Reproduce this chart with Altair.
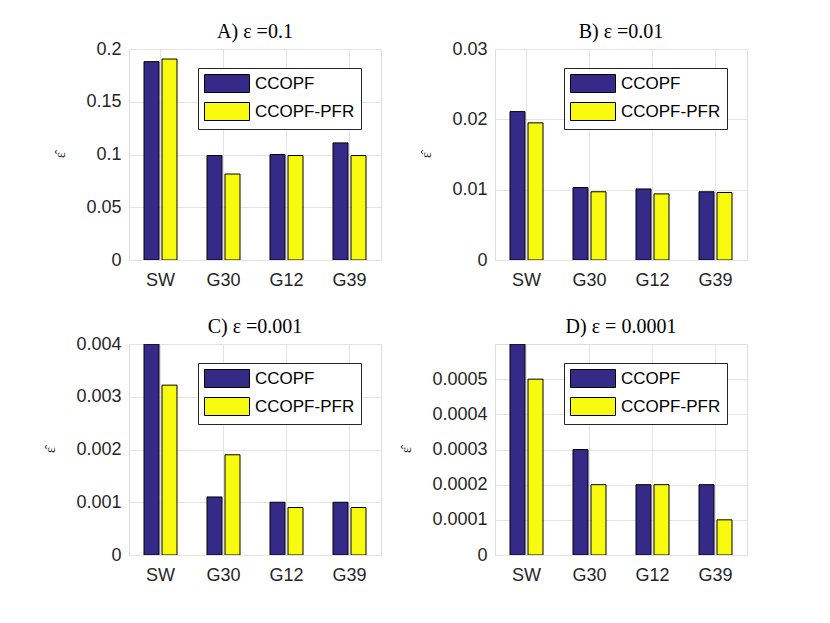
import altair as alt
import pandas as pd

categories = ["SW", "G30", "G12", "G39"]
series = ["CCOPF", "CCOPF-PFR"]
colors = ["#352A87", "#F9FB0E"]

a_ccopf = [0.188, 0.099, 0.100, 0.111]
a_pfr = [0.1905, 0.0815, 0.099, 0.099]
b_ccopf = [0.0211, 0.0103, 0.0101, 0.0097]
b_pfr = [0.0195, 0.0097, 0.0094, 0.0096]
c_ccopf = [0.004, 0.0011, 0.001, 0.001]
c_pfr = [0.00322, 0.0019, 0.0009, 0.0009]
d_ccopf = [0.0006, 0.0003, 0.0002, 0.0002]
d_pfr = [0.0005, 0.0002, 0.0002, 0.0001]

titles = ["A) ε =0.1", "B) ε =0.01", "C) ε =0.001", "D) ε = 0.0001"]
y_max = [0.2, 0.03, 0.004, 0.0006]
y_ticks = [
    [0, 0.05, 0.1, 0.15, 0.2],
    [0, 0.01, 0.02, 0.03],
    [0, 0.001, 0.002, 0.003, 0.004],
    [0, 0.0001, 0.0002, 0.0003, 0.0004, 0.0005],
]
y_formats = [".2~f", ".2~f", ".3~f", ".4~f"]
title_offsets = [-2, -2, -2, 7]
panel_values = [(a_ccopf, a_pfr), (b_ccopf, b_pfr), (c_ccopf, c_pfr), (d_ccopf, d_pfr)]

TEXT = "#262626"
GRID = "#E3E3E3"


def panel(i):
    v1, v2 = panel_values[i]
    rows = []
    for cat, a, b in zip(categories, v1, v2):
        rows.append({"cat": cat, "series": series[0], "value": a})
        rows.append({"cat": cat, "series": series[1], "value": b})
    df = pd.DataFrame(rows)
    return (
        alt.Chart(df)
        .mark_bar(stroke="black", strokeWidth=1, clip=True)
        .encode(
            x=alt.X(
                "cat:N",
                sort=categories,
                scale=alt.Scale(paddingInner=0, paddingOuter=0),
                axis=alt.Axis(
                    title=None, labelAngle=0, grid=True, bandPosition=0.5,
                    gridColor=GRID, ticks=False, tickSize=0, domain=False,
                    labelFont="Liberation Sans", labelFontSize=18,
                    labelColor=TEXT, labelPadding=11,
                ),
            ),
            xOffset=alt.XOffset(
                "series:N",
                sort=series,
                scale=alt.Scale(domain=series, paddingInner=1 / 6, paddingOuter=5 / 6),
            ),
            y=alt.Y(
                "value:Q",
                scale=alt.Scale(domain=[0, y_max[i]], nice=False, zero=True),
                axis=alt.Axis(
                    title="ε̂", values=y_ticks[i], format=y_formats[i],
                    grid=True, gridColor=GRID, ticks=False, tickSize=0, domain=False,
                    labelFont="Liberation Sans", labelFontSize=18,
                    labelColor=TEXT, labelPadding=8,
                    titleFont="Liberation Serif", titleFontSize=14,
                    titleFontWeight="normal", titleColor=TEXT, titlePadding=18,
                ),
            ),
            color=alt.Color(
                "series:N",
                sort=series,
                scale=alt.Scale(domain=series, range=colors),
                legend=alt.Legend(
                    orient="none", legendX=69, legendY=19, title=None,
                    symbolType="M-1,-1H4V1H-1Z", symbolSize=324,
                    symbolStrokeColor="black", symbolStrokeWidth=1,
                    symbolOpacity=1, labelOffset=32,
                    labelFont="Liberation Sans", labelFontSize=17,
                    labelColor="black", labelLimit=300,
                    padding=6, rowPadding=5,
                    strokeColor=TEXT, fillColor="white",
                ),
            ),
        )
        .properties(
            width=252,
            height=211,
            title=alt.TitleParams(
                titles[i], font="Liberation Serif", fontSize=20,
                fontWeight="normal", color="black", offset=title_offsets[i],
            ),
        )
    )


chart = (
    alt.concat(*[panel(i) for i in range(4)], columns=2,
               spacing={"row": 84, "column": 114}, bounds="flush")
    .resolve_scale(x="independent", y="independent", color="independent", xOffset="independent")
    .resolve_legend(color="independent")
    .properties(padding={"left": 35, "top": 13, "right": 5, "bottom": 5})
    .configure_view(stroke=TEXT, strokeWidth=1)
    .configure(background="white")
)

chart.save("out.html", embed_options={"renderer": "svg", "actions": False})
